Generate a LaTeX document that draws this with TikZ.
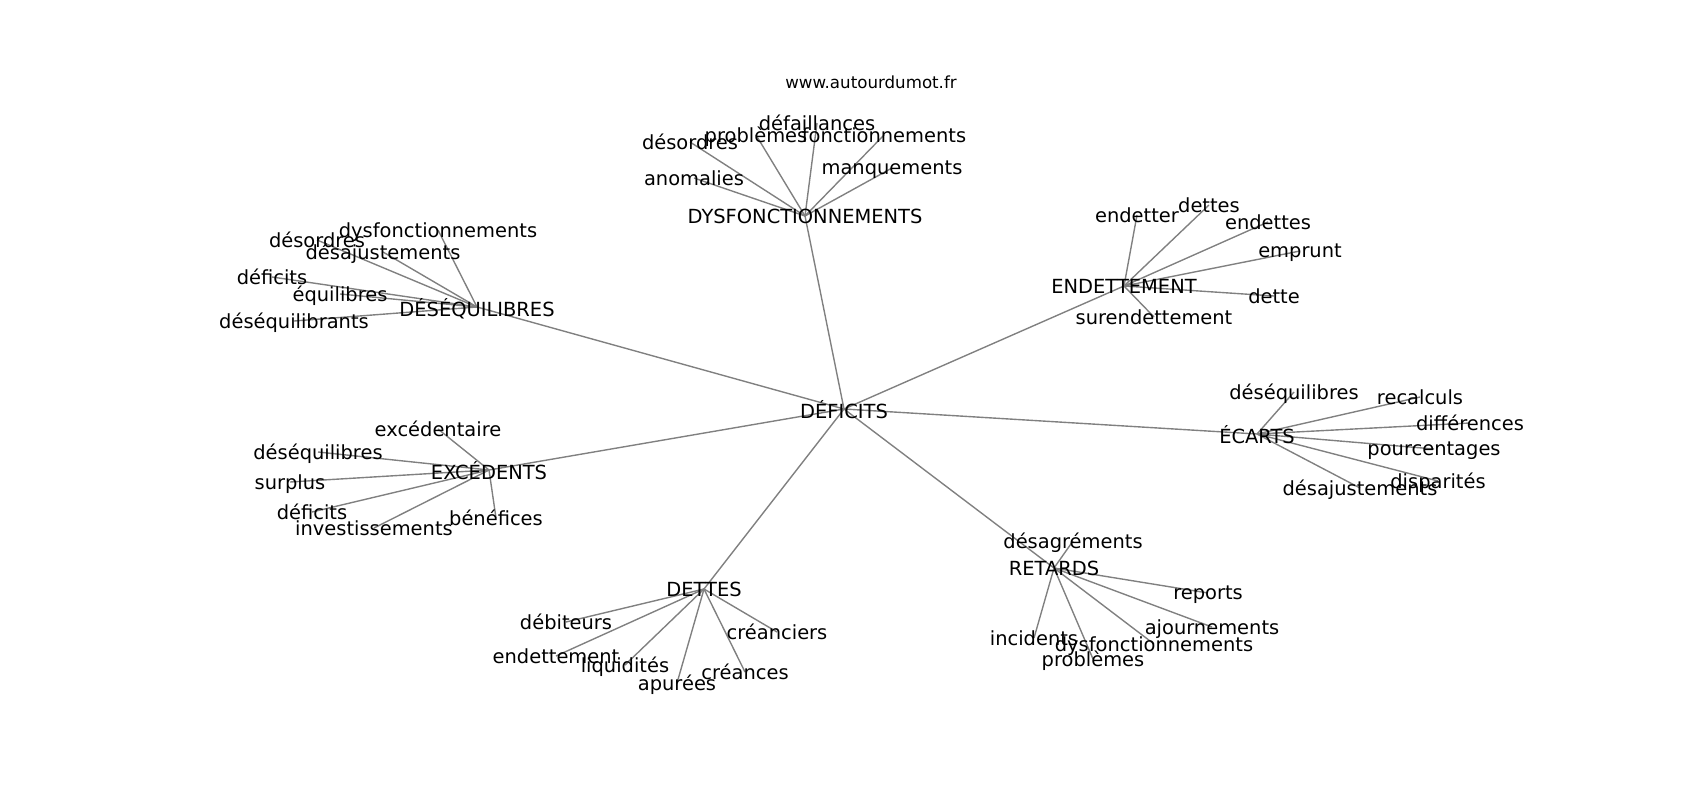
\documentclass[tikz,border=0pt]{standalone}
\usepackage{fontspec}
\setmainfont{DejaVu Sans}
\usetikzlibrary{backgrounds}
\begin{document}
\begin{tikzpicture}[x=0.72pt,y=-0.72pt,
  lbl/.style={font=\fontsize{14}{16}\selectfont, inner sep=0pt, text depth=0pt, text=black},
  small/.style={font=\fontsize{12}{14}\selectfont, inner sep=0pt, text depth=0pt, text=black},
  link/.style={draw={rgb,255:red,128;green,128;blue,128}, line width=1pt}]
\useasboundingbox (0,0) rectangle (1700,800);
\node[small] (www) at (871,82) {www.autourdumot.fr};
% hubs
\node[lbl] (def) at (844,409) {DÉFICITS};
\node[lbl] (dys) at (805,216) {DYSFONCTIONNEMENTS};
\node[lbl] (deseq) at (477,307) {DÉSÉQUILIBRES};
\node[lbl] (endet) at (1124,286) {ENDETTEMENT};
\node[lbl] (ecarts) at (1257,434) {ÉCARTS};
\node[lbl] (exced) at (489,470) {EXCÉDENTS};
\node[lbl] (dettes) at (704,589) {DETTES};
\node[lbl] (retards) at (1054,568) {RETARDS};
% DYSFONCTIONNEMENTS leaves
\node[lbl] (a1) at (817,123) {défaillances};
\node[lbl] (a2) at (756,135) {problèmes};
\node[lbl] (a3) at (884,135) {fonctionnements};
\node[lbl] (a4) at (690,142) {désordres};
\node[lbl] (a5) at (694,178) {anomalies};
\node[lbl] (a6) at (892,168) {manquements};
% DÉSÉQUILIBRES leaves
\node[lbl] (b1) at (438,230) {dysfonctionnements};
\node[lbl] (b2) at (317,240) {désordres};
\node[lbl] (b3) at (383,252) {désajustements};
\node[lbl] (b4) at (272,277) {déficits};
\node[lbl] (b5) at (340,294) {équilibres};
\node[lbl] (b6) at (294,321) {déséquilibrants};
% ENDETTEMENT leaves
\node[lbl] (c1) at (1137,215) {endetter};
\node[lbl] (c2) at (1209,205) {dettes};
\node[lbl] (c3) at (1268,222) {endettes};
\node[lbl] (c4) at (1300,251) {emprunt};
\node[lbl] (c5) at (1274,296) {dette};
\node[lbl] (c6) at (1154,317) {surendettement};
% ÉCARTS leaves
\node[lbl] (e1) at (1294,392) {déséquilibres};
\node[lbl] (e2) at (1420,397) {recalculs};
\node[lbl] (e3) at (1470,423) {différences};
\node[lbl] (e4) at (1434,449) {pourcentages};
\node[lbl] (e5) at (1438,481) {disparités};
\node[lbl] (e6) at (1360,488) {désajustements};
% EXCÉDENTS leaves
\node[lbl] (f1) at (438,429) {excédentaire};
\node[lbl] (f2) at (318,452) {déséquilibres};
\node[lbl] (f3) at (290,482) {surplus};
\node[lbl] (f4) at (312,512) {déficits};
\node[lbl] (f5) at (374,528) {investissements};
\node[lbl] (f6) at (496,518) {bénéfices};
% DETTES leaves
\node[lbl] (g1) at (566,622) {débiteurs};
\node[lbl] (g2) at (777,632) {créanciers};
\node[lbl] (g3) at (556,656) {endettement};
\node[lbl] (g4) at (625,665) {liquidités};
\node[lbl] (g5) at (745,672) {créances};
\node[lbl] (g6) at (677,683) {apurées};
% RETARDS leaves
\node[lbl] (h1) at (1073,541) {désagréments};
\node[lbl] (h2) at (1208,593) {reports};
\node[lbl] (h3) at (1212,627) {ajournements};
\node[lbl] (h4) at (1034,638) {incidents};
\node[lbl] (h5) at (1154,644) {dysfonctionnements};
\node[lbl] (h6) at (1093,659) {problèmes};
\begin{pgfonlayer}{background}
\foreach \h in {dys,deseq,endet,ecarts,exced,dettes,retards}
  \draw[link] (def.center) -- (\h.center);
\foreach \l in {a1,a2,a3,a4,a5,a6} \draw[link] (dys.center) -- (\l.center);
\foreach \l in {b1,b2,b3,b4,b5,b6} \draw[link] (deseq.center) -- (\l.center);
\foreach \l in {c1,c2,c3,c4,c5,c6} \draw[link] (endet.center) -- (\l.center);
\foreach \l in {e1,e2,e3,e4,e5,e6} \draw[link] (ecarts.center) -- (\l.center);
\foreach \l in {f1,f2,f3,f4,f5,f6} \draw[link] (exced.center) -- (\l.center);
\foreach \l in {g1,g2,g3,g4,g5,g6} \draw[link] (dettes.center) -- (\l.center);
\foreach \l in {h1,h2,h3,h4,h5,h6} \draw[link] (retards.center) -- (\l.center);
\end{pgfonlayer}
\end{tikzpicture}
\end{document}
